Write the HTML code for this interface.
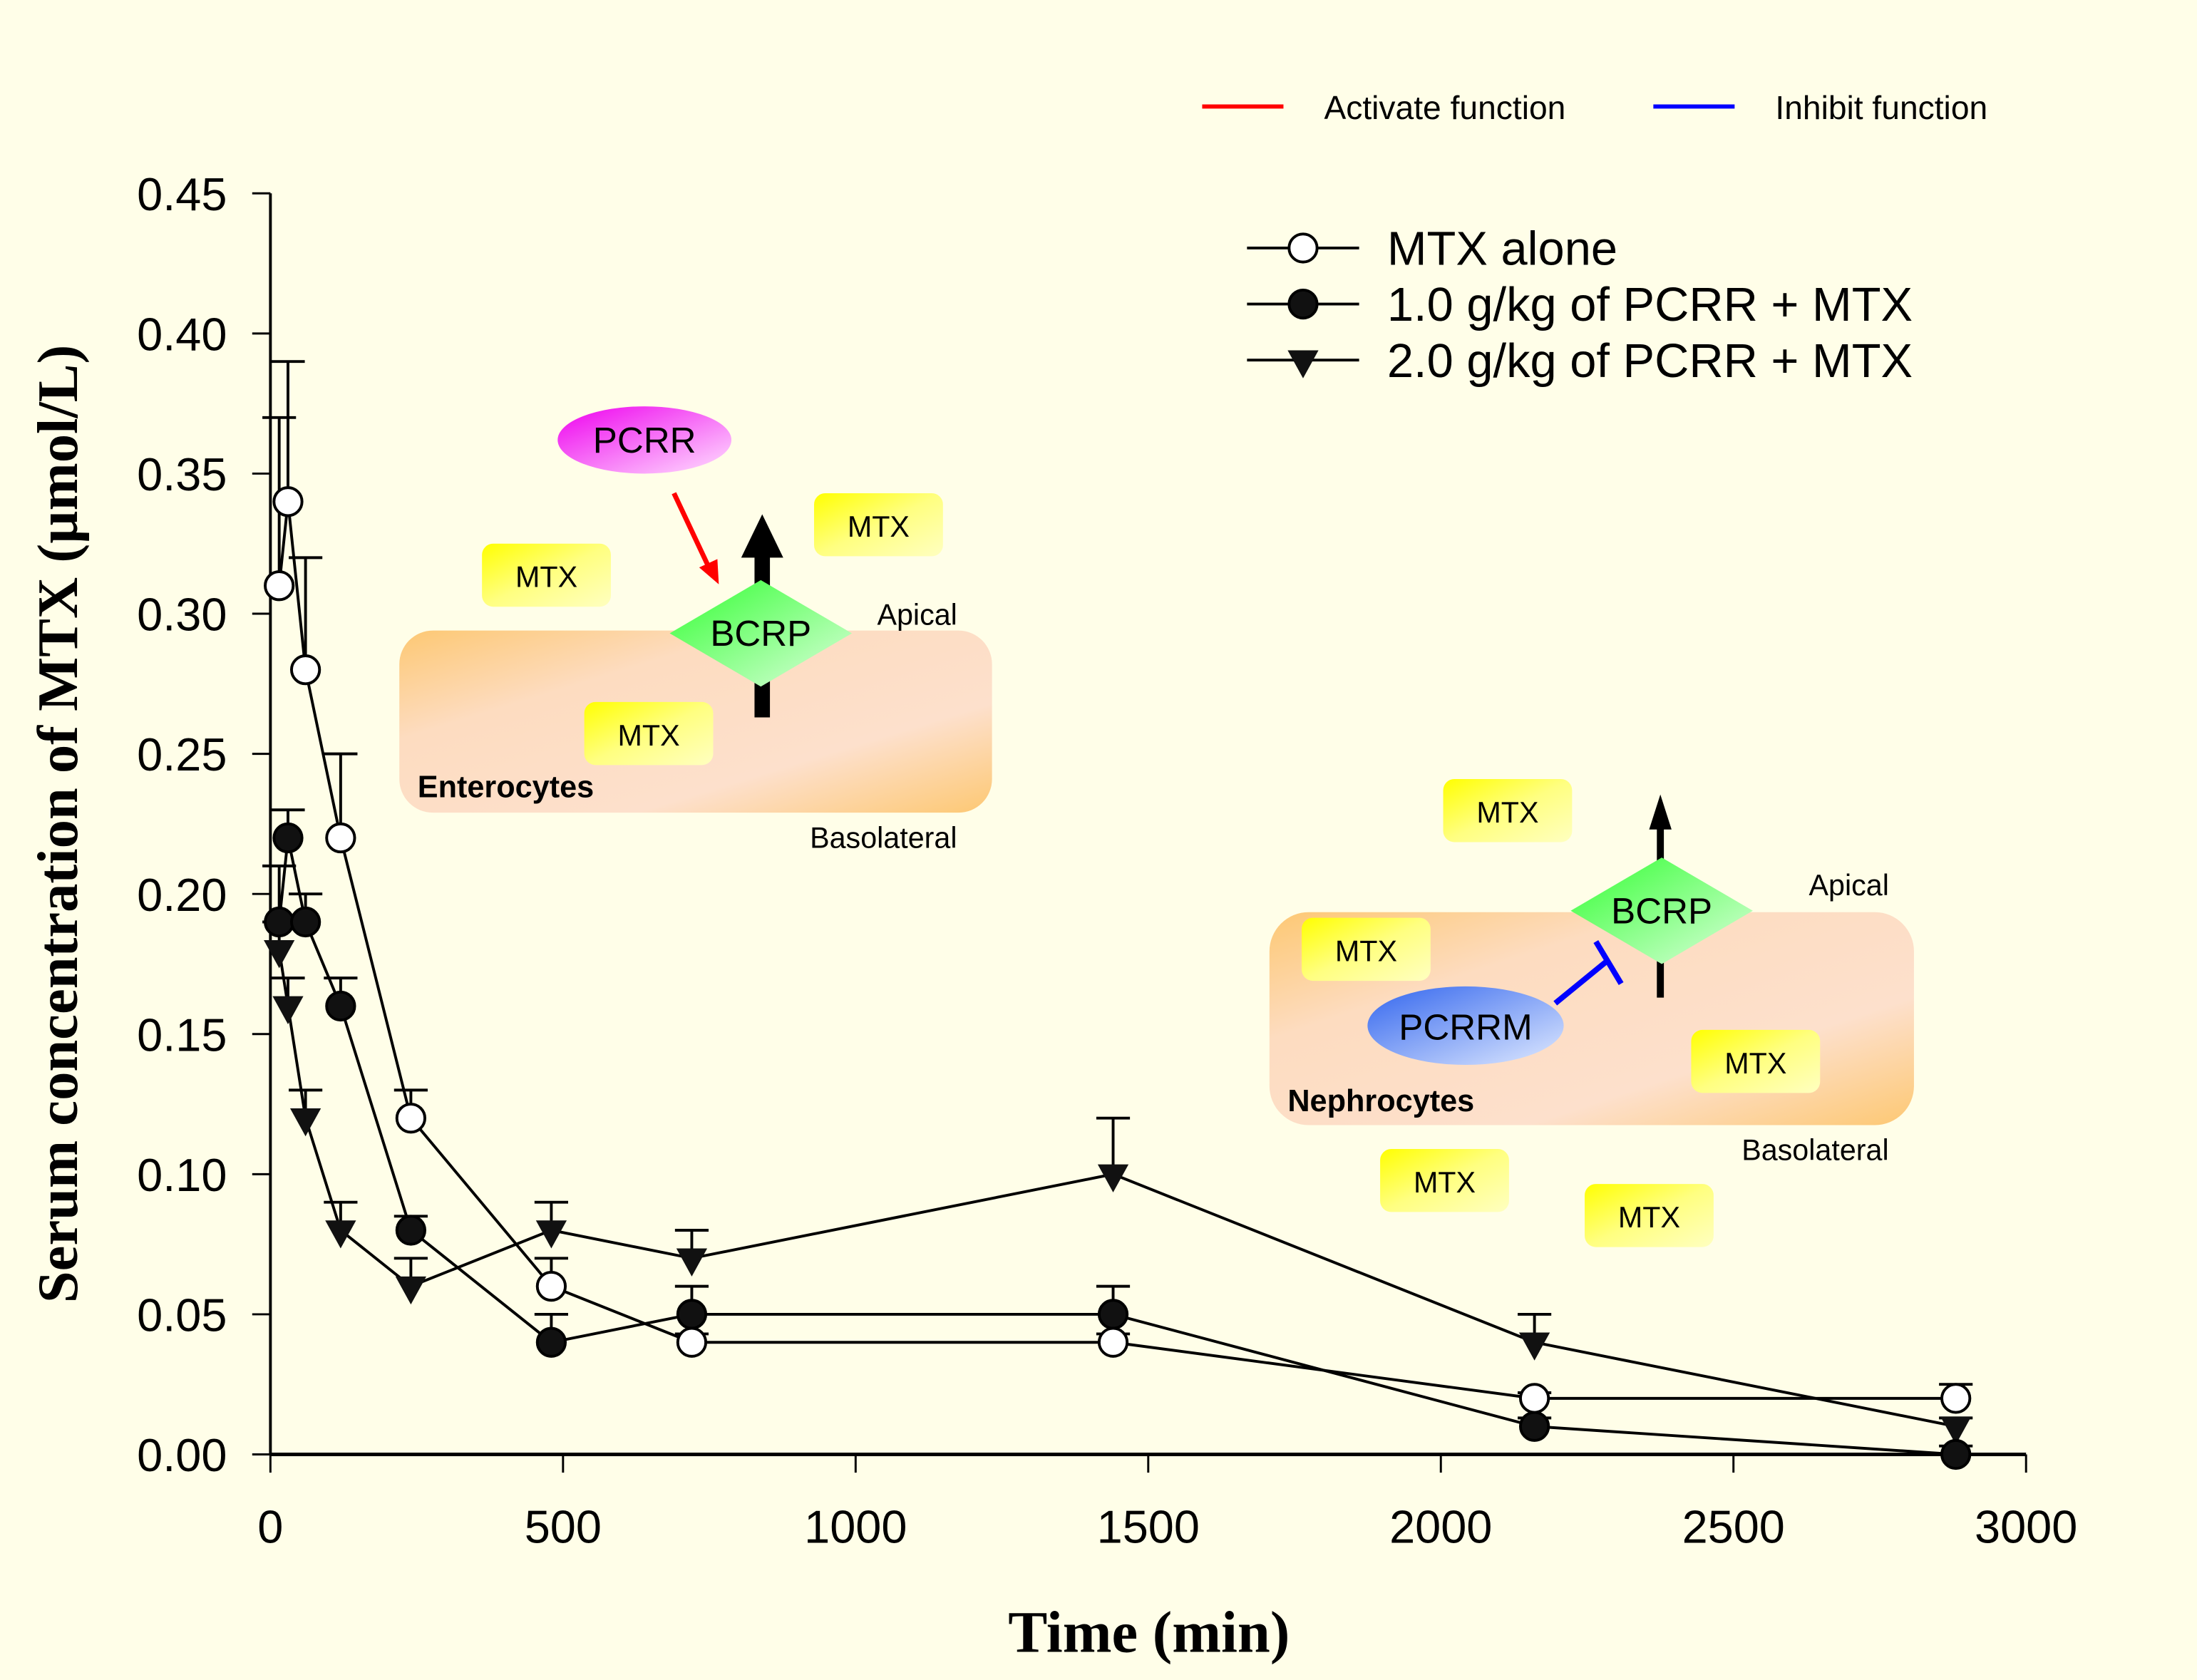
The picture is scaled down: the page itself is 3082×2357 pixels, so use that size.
<!DOCTYPE html>
<html><head><meta charset="utf-8"><style>
html,body{margin:0;padding:0;background:#fffee8;}
svg{display:block;}
text{font-family:"Liberation Sans",Arial,sans-serif;}
</style></head><body>
<svg id="chart" width="3082" height="2357" viewBox="0 0 1568 1199" preserveAspectRatio="none" xmlns="http://www.w3.org/2000/svg">
<defs>
<linearGradient id="cellG" x1="0" y1="0" x2="1" y2="1"><stop offset="0" stop-color="#fdc873"/><stop offset="0.3" stop-color="#fddcc0"/><stop offset="0.7" stop-color="#fde0cc"/><stop offset="1" stop-color="#fdc873"/></linearGradient>
<linearGradient id="mtxG" x1="0" y1="0" x2="1" y2="1"><stop offset="0" stop-color="#ffff00"/><stop offset="0.5" stop-color="#ffff80"/><stop offset="1" stop-color="#ffffc0"/></linearGradient>
<linearGradient id="bcrpG" x1="0" y1="0" x2="1" y2="1"><stop offset="0" stop-color="#33ff33"/><stop offset="1" stop-color="#ddffdd"/></linearGradient>
<linearGradient id="pcrrG" x1="0" y1="0" x2="1" y2="1"><stop offset="0" stop-color="#ee00ee"/><stop offset="1" stop-color="#ffe0ff"/></linearGradient>
<linearGradient id="pcrrmG" x1="0" y1="0" x2="1" y2="1"><stop offset="0" stop-color="#3366ee"/><stop offset="1" stop-color="#e0eaff"/></linearGradient>
</defs>
<rect width="1568" height="1199" fill="#fffee8"/>

<g>
<line x1="858" y1="76" x2="916" y2="76" stroke="#ff0000" stroke-width="3"/>
<text x="945" y="85" font-size="23.5">Activate function</text>
<line x1="1180" y1="76" x2="1238" y2="76" stroke="#0000ff" stroke-width="3"/>
<text x="1267" y="85" font-size="23.5">Inhibit function</text>
</g>

<g>
<rect x="285" y="450" width="423" height="130" rx="24" fill="url(#cellG)"/>
<text x="298" y="569" font-size="22" font-weight="bold">Enterocytes</text>
<text x="578" y="605" font-size="21">Basolateral</text>
<text x="626" y="446" font-size="21">Apical</text>
<rect x="344" y="388" width="92" height="45" rx="8" fill="url(#mtxG)"/><text x="390" y="419" font-size="21" text-anchor="middle">MTX</text>
<rect x="581" y="352" width="92" height="45" rx="8" fill="url(#mtxG)"/><text x="627" y="383" font-size="21" text-anchor="middle">MTX</text>
<rect x="417" y="501" width="92" height="45" rx="8" fill="url(#mtxG)"/><text x="463" y="532" font-size="21" text-anchor="middle">MTX</text>
<line x1="544" y1="512" x2="544" y2="395" stroke="#000" stroke-width="11"/>
<polygon points="529,398 559,398 544,367" fill="#000"/>
<polygon points="478,452 543,414 608,452 543,490" fill="url(#bcrpG)"/>
<text x="543" y="461" font-size="26" text-anchor="middle">BCRP</text>
<ellipse cx="460" cy="314" rx="62" ry="24" fill="url(#pcrrG)"/>
<text x="460" y="323" font-size="26" text-anchor="middle">PCRR</text>
<line x1="481" y1="352" x2="505" y2="403" stroke="#ff0000" stroke-width="3.5"/>
<polygon points="499,405 513,417 512,399" fill="#ff0000"/>
</g>

<g>
<rect x="906" y="651" width="460" height="152" rx="28" fill="url(#cellG)"/>
<text x="919" y="793" font-size="22" font-weight="bold">Nephrocytes</text>
<text x="1243" y="828" font-size="21">Basolateral</text>
<text x="1291" y="639" font-size="21">Apical</text>
<rect x="1030" y="556" width="92" height="45" rx="8" fill="url(#mtxG)"/><text x="1076" y="587" font-size="21" text-anchor="middle">MTX</text>
<rect x="929" y="655" width="92" height="45" rx="8" fill="url(#mtxG)"/><text x="975" y="686" font-size="21" text-anchor="middle">MTX</text>
<rect x="1207" y="735" width="92" height="45" rx="8" fill="url(#mtxG)"/><text x="1253" y="766" font-size="21" text-anchor="middle">MTX</text>
<rect x="985" y="820" width="92" height="45" rx="8" fill="url(#mtxG)"/><text x="1031" y="851" font-size="21" text-anchor="middle">MTX</text>
<rect x="1131" y="845" width="92" height="45" rx="8" fill="url(#mtxG)"/><text x="1177" y="876" font-size="21" text-anchor="middle">MTX</text>
<line x1="1185" y1="712" x2="1185" y2="590" stroke="#000" stroke-width="5"/>
<polygon points="1177,592 1193,592 1185,567" fill="#000"/>
<polygon points="1121,650 1186,612 1251,650 1186,688" fill="url(#bcrpG)"/>
<text x="1186" y="659" font-size="26" text-anchor="middle">BCRP</text>
<ellipse cx="1046" cy="732" rx="70" ry="28" fill="url(#pcrrmG)"/>
<text x="1046" y="742" font-size="26" text-anchor="middle">PCRRM</text>
<line x1="1110" y1="716" x2="1148" y2="685" stroke="#0000ff" stroke-width="4"/>
<line x1="1139" y1="672" x2="1157" y2="702" stroke="#0000ff" stroke-width="4"/>
</g>

<g id="axes"></g>
<g id="series"></g>

<g>
<line x1="890" y1="177" x2="970" y2="177" stroke="#000" stroke-width="2"/><circle cx="930" cy="177" r="10" fill="#fff" stroke="#000" stroke-width="2"/>
<text x="990" y="189" font-size="34">MTX alone</text>
<line x1="890" y1="217" x2="970" y2="217" stroke="#000" stroke-width="2"/><circle cx="930" cy="217" r="10" fill="#111" stroke="#000" stroke-width="2"/>
<text x="990" y="229" font-size="34">1.0 g/kg of PCRR + MTX</text>
<line x1="890" y1="257" x2="970" y2="257" stroke="#000" stroke-width="2"/><polygon points="919,250 941,250 930,270" fill="#111"/>
<text x="990" y="269" font-size="34">2.0 g/kg of PCRR + MTX</text>
</g>

<text x="820" y="1179" font-size="42" font-weight="bold" text-anchor="middle" style="font-family:'Liberation Serif',serif">Time (min)</text>
<text transform="translate(55,588) rotate(-90)" font-size="41" font-weight="bold" text-anchor="middle" style="font-family:'Liberation Serif',serif">Serum concentration of MTX (µmol/L)</text>
</svg>
<script>
const times = [15, 30, 60, 120, 240, 480, 720, 1440, 2160, 2880];
const mtxAlone = [0.31, 0.34, 0.28, 0.22, 0.12, 0.06, 0.04, 0.04, 0.02, 0.02];
const mtxAloneErr = [0.06, 0.05, 0.04, 0.03, 0.01, 0.01, 0.003, 0.003, 0.002, 0.005];
const pcrr1 = [0.19, 0.22, 0.19, 0.16, 0.08, 0.04, 0.05, 0.05, 0.01, 0.0];
const pcrr1Err = [0.02, 0.01, 0.01, 0.01, 0.005, 0.01, 0.01, 0.01, 0.003, 0.003];
const pcrr2 = [0.18, 0.16, 0.12, 0.08, 0.06, 0.08, 0.07, 0.10, 0.04, 0.01];
const pcrr2Err = [0.01, 0.01, 0.01, 0.01, 0.01, 0.01, 0.01, 0.02, 0.01, 0.003];
const xTicks = [0, 500, 1000, 1500, 2000, 2500, 3000];
const yTicks = [0, 0.05, 0.10, 0.15, 0.20, 0.25, 0.30, 0.35, 0.40, 0.45];

const NS = 'http://www.w3.org/2000/svg';
const X0 = 193, X1 = 1446, Y0 = 1038, Y1 = 138;
function xs(v){ return X0 + (v / 3000) * (X1 - X0); }
function ys(v){ return Y0 - (v / 0.45) * (Y0 - Y1); }
function mk(tag, attrs, parent){
  const e = document.createElementNS(NS, tag);
  for (const k in attrs) e.setAttribute(k, attrs[k]);
  parent.appendChild(e);
  return e;
}
const axes = document.getElementById('axes');
let a = mk('line', {x1:X0, y1:Y0, x2:X1, y2:Y0, stroke:'#000', 'stroke-width':2.5}, axes);


a = mk('line', {x1:X0, y1:Y1, x2:X0, y2:Y0, stroke:'#000', 'stroke-width':2}, axes);


xTicks.forEach(t => {
  mk('line', {x1:xs(t), y1:Y0, x2:xs(t), y2:Y0+13, stroke:'#000', 'stroke-width':1.5}, axes);
  const tx = mk('text', {x:xs(t), y:Y0+63, 'font-size':33, 'text-anchor':'middle'}, axes);
  tx.textContent = t;
  
  
});
yTicks.forEach(t => {
  mk('line', {x1:X0-13, y1:ys(t), x2:X0, y2:ys(t), stroke:'#000', 'stroke-width':1.5}, axes);
  const tx = mk('text', {x:162, y:ys(t)+12, 'font-size':33, 'text-anchor':'end'}, axes);
  tx.textContent = t.toFixed(2);
  
  
});
const sg = document.getElementById('series');
function drawSeries(vals, errs, type, name){
  const g = mk('g', {}, sg);
  
  
  vals.forEach((v, i) => {
    const x = xs(times[i]), y = ys(v), ye = ys(v + errs[i]);
    mk('line', {x1:x, y1:y, x2:x, y2:ye, stroke:'#000', 'stroke-width':2}, g);
    mk('line', {x1:x-12, y1:ye, x2:x+12, y2:ye, stroke:'#000', 'stroke-width':2}, g);
  });
  mk('polyline', {points: vals.map((v,i)=>xs(times[i])+','+ys(v)).join(' '), fill:'none', stroke:'#000', 'stroke-width':2}, g);
  vals.forEach((v, i) => {
    const x = xs(times[i]), y = ys(v);
    let m;
    if (type === 'open') m = mk('circle', {cx:x, cy:y, r:10, fill:'#fff', stroke:'#000', 'stroke-width':2}, g);
    else if (type === 'filled') m = mk('circle', {cx:x, cy:y, r:10, fill:'#111', stroke:'#000', 'stroke-width':2}, g);
    else m = mk('polygon', {points:(x-11)+','+(y-7)+' '+(x+11)+','+(y-7)+' '+x+','+(y+13), fill:'#111'}, g);
    
    
  });
}
drawSeries(pcrr2, pcrr2Err, 'tri', 'series-2g-pcrr');
drawSeries(pcrr1, pcrr1Err, 'filled', 'series-1g-pcrr');
drawSeries(mtxAlone, mtxAloneErr, 'open', 'series-mtx-alone');
</script>
</body></html>
